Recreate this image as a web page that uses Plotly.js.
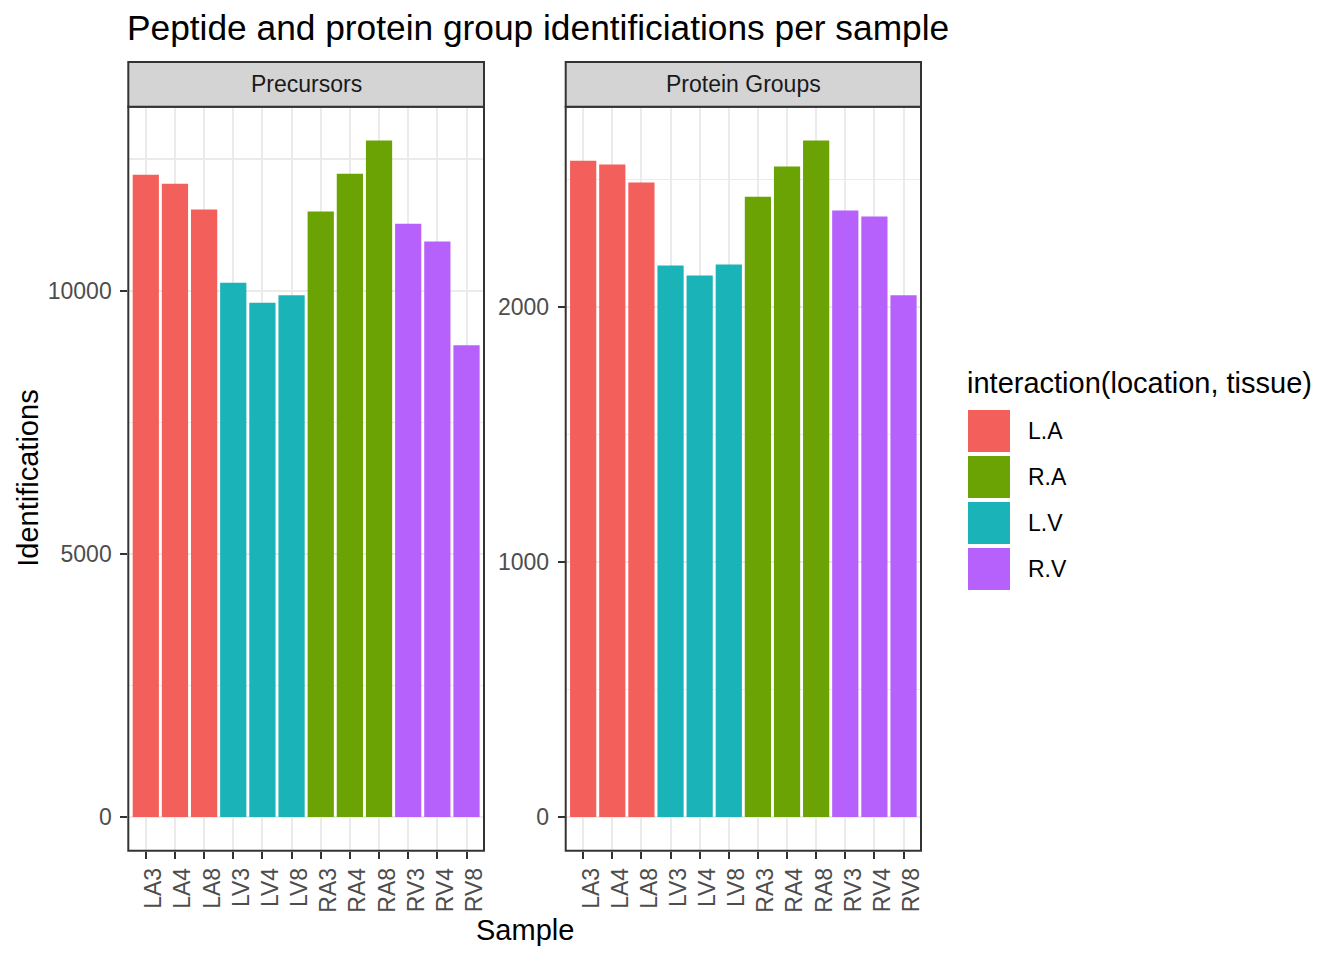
<!DOCTYPE html>
<html>
<head>
<meta charset="utf-8">
<script src="https://cdn.plot.ly/plotly-3.0.1.min.js"></script>
<style>
  html, body { margin: 0; padding: 0; background: #ffffff; }
  #chart { width: 1344px; height: 960px; }
</style>
</head>
<body>
<div id="chart"></div>
<script>
// Samples and their group (location.tissue)
const samples = ['LA3', 'LA4', 'LA8', 'LV3', 'LV4', 'LV8', 'RA3', 'RA4', 'RA8', 'RV3', 'RV4', 'RV8'];
const sampleGroups = ['L.A', 'L.A', 'L.A', 'L.V', 'L.V', 'L.V', 'R.A', 'R.A', 'R.A', 'R.V', 'R.V', 'R.V'];

// Identifications per facet
const precursors = [12200, 12030, 11540, 10150, 9770, 9910, 11500, 12220, 12850, 11270, 10930, 8960];
const proteinGroups = [2573, 2558, 2487, 2162, 2123, 2166, 2432, 2550, 2652, 2378, 2354, 2045];

const facetNames = ['Precursors', 'Protein Groups'];
const legendGroups = ['L.A', 'R.A', 'L.V', 'R.V'];
const legendColors = ['#F35F5B', '#6BA304', '#1AB4B8', '#B761FD'];

const W = 1344, H = 960;
const FONT = 'Liberation Sans, Arial, Helvetica, sans-serif';
const px = v => v / W;          // page pixel -> paper x
const py = v => (H - v) / H;    // page pixel -> paper y

const colorOf = g => legendColors[legendGroups.indexOf(g)];
const barColors = sampleGroups.map(colorOf);

// ggplot-style 5% expansion
const expand = vals => {
    const m = Math.max(...vals);
    return [-0.05 * m, 1.05 * m];
};

const traces = [
    { x: samples, y: precursors, xaxis: 'x', yaxis: 'y' },
    { x: samples, y: proteinGroups, xaxis: 'x2', yaxis: 'y2' }
].map(t => Object.assign(t, {
    type: 'bar',
    marker: { color: barColors, line: { width: 0 } },
    showlegend: false,
    hoverinfo: 'x+y'
}));

const panelTop = 106.7, panelBottom = 850.7, stripTop = 62;
const xDomains = [[px(128.3), px(484)], [px(565.7), px(921)]];

const xAxisBase = {
    type: 'category',
    range: [-0.6, samples.length - 0.4],
    showgrid: true,
    gridcolor: '#EBEBEB',
    gridwidth: 2,
    zeroline: false,
    showline: false,
    ticks: 'outside',
    ticklen: 7,
    tickwidth: 2,
    tickcolor: '#333333',
    tickangle: -90,
    ticklabelshift: 8,
    tickfont: { family: FONT, size: 23, color: '#4D4D4D' },
    fixedrange: true
};

const yAxisBase = {
    showgrid: true,
    gridcolor: '#EBEBEB',
    gridwidth: 2,
    zeroline: false,
    showline: false,
    ticks: 'outside',
    ticklen: 7,
    tickwidth: 2,
    tickcolor: '#333333',
    ticklabelstandoff: 4,
    tickformat: 'd',
    tickfont: { family: FONT, size: 23, color: '#4D4D4D' },
    domain: [py(panelBottom), py(panelTop)],
    fixedrange: true
};

const layout = {
    width: W,
    height: H,
    margin: { l: 0, r: 0, t: 0, b: 0 },
    paper_bgcolor: '#ffffff',
    plot_bgcolor: '#ffffff',
    bargap: 0.1,
    showlegend: false,
    title: {
        text: 'Peptide and protein group identificiations per sample',
        xref: 'container', yref: 'container',
        x: px(127), xanchor: 'left',
        y: py(28), yanchor: 'middle',
        font: { family: FONT, size: 35.3, color: '#000000' }
    },
    xaxis: Object.assign({}, xAxisBase, { domain: xDomains[0], anchor: 'y' }),
    xaxis2: Object.assign({}, xAxisBase, { domain: xDomains[1], anchor: 'y2' }),
    yaxis: Object.assign({}, yAxisBase, {
        anchor: 'x', range: expand(precursors), dtick: 5000,
        minor: { dtick: 2500, showgrid: true, gridcolor: '#EBEBEB', gridwidth: 1.2 }
    }),
    yaxis2: Object.assign({}, yAxisBase, {
        anchor: 'x2', range: expand(proteinGroups), dtick: 1000,
        minor: { dtick: 500, showgrid: true, gridcolor: '#EBEBEB', gridwidth: 1.2 }
    }),
    shapes: [],
    annotations: []
};

// panel borders and facet strips
['x', 'x2'].forEach((xa, i) => {
    const ya = i === 0 ? 'y' : 'y2';
    layout.shapes.push({
        type: 'rect', xref: xa + ' domain', yref: ya + ' domain',
        x0: 0, x1: 1, y0: 0, y1: 1,
        line: { color: '#333333', width: 2 }, fillcolor: 'rgba(0,0,0,0)', layer: 'above'
    });
    layout.shapes.push({
        type: 'rect', xref: xa + ' domain', yref: 'paper',
        x0: 0, x1: 1, y0: py(panelTop), y1: py(stripTop),
        line: { color: '#333333', width: 2 }, fillcolor: '#D4D4D4', layer: 'above'
    });
    layout.annotations.push({
        text: facetNames[i], xref: 'paper', yref: 'paper',
        x: (xDomains[i][0] + xDomains[i][1]) / 2, y: py((panelTop + stripTop) / 2),
        xanchor: 'center', yanchor: 'middle', showarrow: false,
        font: { family: FONT, size: 23, color: '#1A1A1A' }
    });
});

// shared axis titles
layout.annotations.push({
    text: 'Identifications', xref: 'paper', yref: 'paper',
    x: px(28), y: py((panelTop + panelBottom) / 2), textangle: -90,
    xanchor: 'center', yanchor: 'middle', showarrow: false,
    font: { family: FONT, size: 29, color: '#000000' }
});
layout.annotations.push({
    text: 'Sample', xref: 'paper', yref: 'paper',
    x: px(524.5), y: py(930),
    xanchor: 'center', yanchor: 'middle', showarrow: false,
    font: { family: FONT, size: 29, color: '#000000' }
});

// legend drawn by hand to get ggplot-sized keys
layout.annotations.push({
    text: 'interaction(location, tissue)', xref: 'paper', yref: 'paper',
    x: px(965), y: py(383), xanchor: 'left', yanchor: 'middle', showarrow: false,
    font: { family: FONT, size: 29, color: '#000000' }
});
legendGroups.forEach((g, i) => {
    const top = 410 + i * 46;
    layout.shapes.push({
        type: 'rect', xref: 'paper', yref: 'paper',
        x0: px(968), x1: px(1010), y0: py(top + 42), y1: py(top),
        line: { width: 0 }, fillcolor: legendColors[i]
    });
    layout.annotations.push({
        text: g, xref: 'paper', yref: 'paper',
        x: px(1026), y: py(top + 21), xanchor: 'left', yanchor: 'middle', showarrow: false,
        font: { family: FONT, size: 23, color: '#000000' }
    });
});

Plotly.newPlot('chart', traces, layout, { displayModeBar: false, staticPlot: true });
</script>
</body>
</html>
